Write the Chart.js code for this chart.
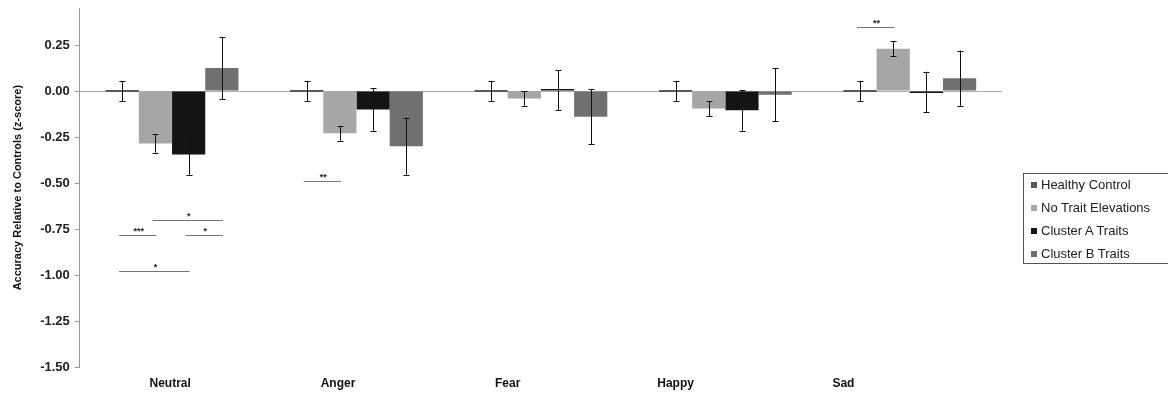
<!DOCTYPE html>
<html>
<head>
<meta charset="utf-8">
<script src="https://cdn.jsdelivr.net/npm/chart.js@4/dist/chart.umd.min.js"></script>
<style>
  html,body{margin:0;padding:0;background:#fff;overflow:hidden;}
  #wrap{position:relative;width:1168px;height:397px;}
  #legend{position:absolute;left:1023px;top:173px;width:160px;height:91px;border:1px solid #555;
    font:13px "Liberation Sans",Arial,sans-serif;color:#222;box-sizing:border-box;padding-top:2px;}
  #legend div{height:23px;line-height:17px;white-space:nowrap;}
  #legend span{display:inline-block;width:6px;height:6px;margin:0 4px 1px 7px;vertical-align:middle;}
</style>
</head>
<body>
<div id="wrap">
  <canvas id="c"></canvas>
  <div id="legend"></div>
</div>
<script>
// ==== DATA ====
const categories = ["Neutral", "Anger", "Fear", "Happy", "Sad"];
const groups = ["Healthy Control", "No Trait Elevations", "Cluster A Traits", "Cluster B Traits"];
const colors = ["#5a5a5a", "#a6a6a6", "#141414", "#707070"];

const healthyCtrl  = [0.00, 0.00, 0.00, 0.00, 0.00];
const noTrait      = [-0.285, -0.23, -0.04, -0.095, 0.23];
const clusterA     = [-0.345, -0.10, 0.005, -0.105, -0.005];
const clusterB     = [0.125, -0.30, -0.14, -0.02, 0.07];

const healthyErr   = [0.055, 0.055, 0.055, 0.055, 0.055];
const noTraitErr   = [0.05, 0.04, 0.04, 0.04, 0.04];
const clusterAErr  = [0.11, 0.115, 0.11, 0.11, 0.11];
const clusterBErr  = [0.17, 0.155, 0.15, 0.145, 0.15];

const yTicks = [0.25, 0, -0.25, -0.5, -0.75, -1, -1.25, -1.5];

// significance brackets: category index, from group, to group, y value, stars
const sigCat   = [0, 0, 0, 0, 1, 4];
const sigFrom  = [0, 1, 2, 0, 0, 0];
const sigTo    = [1, 3, 3, 2, 1, 1];
const sigY     = [-0.784, -0.703, -0.784, -0.98, -0.49, 0.349];
const sigText  = ["***", "*", "*", "*", "**", "**"];

// category label positions (as in the original figure, labels sit a bit left)
const labelPos = [0.49, 1.40, 2.32, 3.23, 4.14];

const values = [healthyCtrl, noTrait, clusterA, clusterB];
const errs = [healthyErr, noTraitErr, clusterAErr, clusterBErr];

// ==== legend (html) ====
document.getElementById("legend").innerHTML = groups.map((g,i)=>
  `<div><span style="background:${colors[i]}"></span>${g}</div>`).join("");

// ==== plugins ====
const errorBars = {
  id: "errorBars",
  afterDatasetsDraw(chart){
    const ctx = chart.ctx, ys = chart.scales.y;
    ctx.save();
    ctx.strokeStyle = "#111";
    ctx.lineWidth = 1;
    values.forEach((vals, i) => {
      const meta = chart.getDatasetMeta(i);
      meta.data.forEach((bar, j) => {
        const x = Math.round(bar.x) + 0.5;
        const y1 = ys.getPixelForValue(vals[j] + errs[i][j]);
        const y2 = ys.getPixelForValue(vals[j] - errs[i][j]);
        ctx.beginPath();
        ctx.moveTo(x, y1); ctx.lineTo(x, y2);
        ctx.moveTo(x - 3, Math.round(y1) + 0.5); ctx.lineTo(x + 3, Math.round(y1) + 0.5);
        ctx.moveTo(x - 3, Math.round(y2) + 0.5); ctx.lineTo(x + 3, Math.round(y2) + 0.5);
        ctx.stroke();
      });
    });
    ctx.restore();
  }
};

const sigMarks = {
  id: "sigMarks",
  afterDatasetsDraw(chart){
    const ctx = chart.ctx, ys = chart.scales.y;
    ctx.save();
    sigCat.forEach((c, k) => {
      const xa = chart.getDatasetMeta(sigFrom[k]).data[c].x;
      const xb = chart.getDatasetMeta(sigTo[k]).data[c].x;
      const y = Math.round(ys.getPixelForValue(sigY[k])) + 0.5;
      ctx.strokeStyle = "#777";
      ctx.lineWidth = 1;
      ctx.beginPath();
      ctx.moveTo(xa - 3, y); ctx.lineTo(xb + 1, y);
      ctx.stroke();
      ctx.fillStyle = "#222";
      ctx.font = "bold 9px 'Liberation Sans', Arial, sans-serif";
      ctx.textAlign = "center";
      ctx.textBaseline = "bottom";
      ctx.fillText(sigText[k], (xa + xb) / 2, y + 1);
    });
    ctx.restore();
  }
};

// ==== chart ====
new Chart(document.getElementById("c"), {
  type: "bar",
  data: {
    labels: categories,
    datasets: groups.map((g, i) => ({
      label: g,
      data: values[i],
      backgroundColor: colors[i],
      borderWidth: 0,
      minBarLength: 2,
      barPercentage: 1.0,
      categoryPercentage: 0.72
    }))
  },
  options: {
    responsive: true,
    maintainAspectRatio: false,
    animation: false,
    layout: { padding: { left: 11, right: 166, top: 1, bottom: -4 } },
    plugins: { legend: { display: false }, tooltip: { enabled: false } },
    scales: {
      x: { display: false },
      x2: {
        type: "linear", position: "bottom", min: 0, max: 5, offset: false,
        grid: { display: false, drawTicks: false, offset: false }, border: { display: false },
        afterBuildTicks: axis => { axis.ticks = labelPos.map(v => ({ value: v })); },
        ticks: {
          autoSkip: false, maxRotation: 0, padding: 11, color: "#111",
          font: { family: "'Liberation Sans', Arial, sans-serif", size: 12, weight: "bold", lineHeight: 1 },
          callback: (v, i) => categories[i]
        }
      },
      y: {
        min: -1.5, max: 0.45,
        afterBuildTicks: axis => { axis.ticks = yTicks.map(v => ({ value: v })); },
        grid: {
          drawOnChartArea: true,
          color: c => (c.tick && c.tick.value === 0) ? "#ababab" : "rgba(0,0,0,0)",
          tickColor: "#999", tickLength: 5
        },
        border: { color: "#999" },
        ticks: {
          color: "#222", padding: 5,
          font: { family: "'Liberation Sans', Arial, sans-serif", size: 13, weight: "bold", lineHeight: 0.5 },
          callback: v => Number(v).toFixed(2)
        },
        title: {
          display: true, text: "Accuracy Relative to Controls (z-score)", color: "#111",
          font: { family: "'Liberation Sans', Arial, sans-serif", size: 11, weight: "bold" },
          padding: { top: 0, bottom: 11 }
        }
      }
    }
  },
  plugins: [errorBars, sigMarks]
});
</script>
</body>
</html>
